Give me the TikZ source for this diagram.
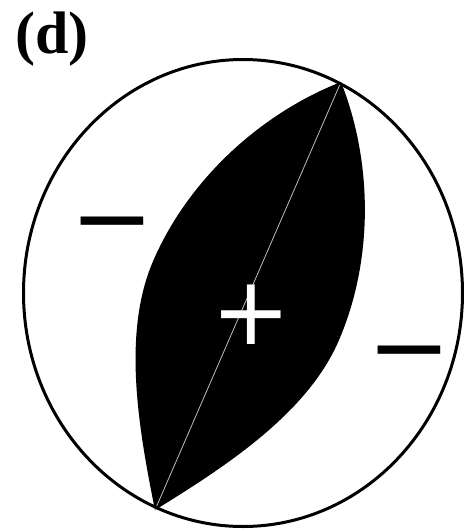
\documentclass[tikz,border=0pt]{standalone}
\usepackage{fontspec}
\usepackage{tikz}
\usepackage{xcolor}
\setmainfont{Liberation Serif}
\newfontfamily\signfont{DejaVu Sans}
\usetikzlibrary{positioning, calc}
\definecolor{chordgray}{RGB}{190,190,190}

\begin{document}
\begin{tikzpicture}[x=1pt, y=-1pt,
    sign/.style={inner sep=0pt, font=\signfont\fontsize{100}{100}\selectfont}]
  \useasboundingbox (0,0) rectangle (465,531);
  % panel label
  \node[anchor=base west, inner sep=0pt,
        font=\bfseries\fontsize{60}{60}\selectfont] (lbl) at (15,53) {(d)};
  % nodal points on the rim
  \coordinate (tp) at (341,82);
  \coordinate (bp) at (155,510);
  % compressional lens
  \fill[black] (bp) .. controls (227.8,465.3) and (307.4,412.7) .. (338.5,341.2)
               .. controls (374.3,258.7) and (372.2,160.6) .. (tp)
               .. controls (262.2,112.8) and (189.1,178.1) .. (153.3,260.6)
               .. controls (122.2,332.1) and (138.0,426.3) .. (bp) -- cycle;
  \draw[chordgray, line width=0.8pt] (bp) -- (tp);
  % focal sphere
  \draw[line width=3pt] (243,293) ellipse [x radius=219.5, y radius=233.5];
  % polarities
  \node[sign, white, font=\signfont\fontsize{95}{95}\selectfont] (pos) at (251,315) {+};
  \node[sign, anchor=north] (negl) at (112.5,217) {−};
  \node[sign, anchor=north] (negr) at (409.5,346) {−};
\end{tikzpicture}
\end{document}
